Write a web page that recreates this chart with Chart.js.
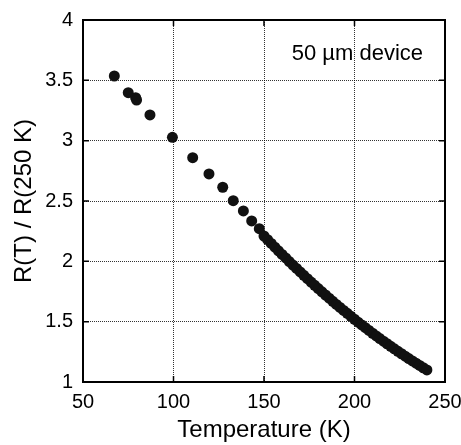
<!DOCTYPE html>
<html>
<head>
<meta charset="utf-8">
<script src="https://cdn.jsdelivr.net/npm/chart.js@4/dist/chart.umd.min.js"></script>
<style>
  html, body { margin: 0; padding: 0; background: #fff; }
  #wrap { width: 461px; height: 445px; position: relative; }
</style>
</head>
<body>
<div id="wrap"><canvas id="chart"></canvas></div>
<script>
// Temperature (K) and R(T)/R(250 K)
const temps = [67.3, 75, 79.1, 79.6, 87, 99.4, 110.6, 119.6, 127.2, 133, 138.6, 143.2, 147.4,
  150, 152, 154, 156, 158, 160, 162, 164, 166, 168, 170, 172, 174, 176, 178, 180, 182, 184,
  186, 188, 190, 192, 194, 196, 198, 200, 202, 204, 206, 208, 210, 212, 214, 216, 218, 220,
  222, 224, 226, 228, 230, 232, 234, 236, 238, 240];
const ratios = [3.536, 3.398, 3.356, 3.337, 3.213, 3.028, 2.859, 2.724, 2.614, 2.503, 2.418, 2.335, 2.271,
  2.210, 2.179, 2.148, 2.117, 2.087, 2.057, 2.028, 1.998, 1.969, 1.941, 1.912, 1.884, 1.856, 1.828,
  1.801, 1.774, 1.747, 1.721, 1.695, 1.669, 1.643, 1.618, 1.593, 1.569, 1.544, 1.520, 1.496, 1.473,
  1.450, 1.427, 1.404, 1.382, 1.360, 1.338, 1.317, 1.296, 1.275, 1.254, 1.234, 1.214, 1.194, 1.175,
  1.156, 1.137, 1.118, 1.100];

const xTicks = [50, 100, 150, 200, 250];
const yTicks = [1, 1.5, 2, 2.5, 3, 3.5, 4];
const annotation = '50 µm device';

const FONT = "'Liberation Sans', Arial, Helvetica, sans-serif";

// frame round the plot, with short inward ticks, plus the label in the corner
const framePlugin = {
  id: 'frame',
  afterDraw(chart) {
    const { ctx, chartArea: a, scales } = chart;
    ctx.save();
    ctx.strokeStyle = '#000';
    ctx.lineWidth = 1.5;
    xTicks.forEach(v => {
      const px = scales.x.getPixelForValue(v);
      ctx.beginPath();
      ctx.moveTo(px, a.bottom); ctx.lineTo(px, a.bottom - 6);
      ctx.moveTo(px, a.top); ctx.lineTo(px, a.top + 6);
      ctx.stroke();
    });
    yTicks.forEach(v => {
      const py = scales.y.getPixelForValue(v);
      ctx.beginPath();
      ctx.moveTo(a.left, py); ctx.lineTo(a.left + 6, py);
      ctx.moveTo(a.right, py); ctx.lineTo(a.right - 6, py);
      ctx.stroke();
    });
    ctx.lineWidth = 2;
    ctx.strokeRect(a.left, a.top, a.right - a.left, a.bottom - a.top);

    ctx.fillStyle = '#000';
    ctx.font = '22px ' + FONT;
    ctx.textAlign = 'right';
    ctx.textBaseline = 'middle';
    ctx.fillText(annotation, a.right - 22, a.top + 34);
    ctx.restore();
  }
};

new Chart(document.getElementById('chart'), {
  type: 'scatter',
  data: {
    datasets: [{
      data: temps.map((t, i) => ({ x: t, y: ratios[i] })),
      backgroundColor: '#111',
      borderWidth: 0,
      pointRadius: 5.5,
      pointHoverRadius: 5.5
    }]
  },
  options: {
    responsive: true,
    maintainAspectRatio: false,
    animation: false,
    events: [],
    layout: { padding: { top: 20, right: 16, left: 0, bottom: 0 } },
    plugins: { legend: { display: false }, tooltip: { enabled: false } },
    scales: {
      x: {
        type: 'linear',
        min: 50, max: 250,
        afterBuildTicks: s => { s.ticks = xTicks.map(v => ({ value: v })); },
        afterFit: s => { s.height = 63; s.paddingLeft = 0; s.paddingRight = 0; },
        grid: { color: 'rgba(0,0,0,0.8)', lineWidth: 1, drawTicks: false },
        border: { display: true, color: '#000', width: 2, dash: [1, 1] },
        ticks: { color: '#000', padding: 8, font: { family: FONT, size: 20 }, callback: v => String(v) },
        title: { display: true, text: 'Temperature (K)', color: '#000',
                 font: { family: FONT, size: 24 }, padding: { top: 0, bottom: 0 } }
      },
      y: {
        type: 'linear',
        min: 1, max: 4,
        afterBuildTicks: s => { s.ticks = yTicks.map(v => ({ value: v })); },
        afterFit: s => { s.width = 83; s.paddingTop = 0; s.paddingBottom = 0; },
        grid: { color: 'rgba(0,0,0,0.8)', lineWidth: 1, drawTicks: false },
        border: { display: true, color: '#000', width: 2, dash: [1, 1] },
        ticks: { color: '#000', padding: 10, font: { family: FONT, size: 20 }, callback: v => String(v) },
        title: { display: true, text: 'R(T) / R(250 K)', color: '#000',
                 font: { family: FONT, size: 24 }, padding: { top: 10, bottom: 0 } }
      }
    }
  },
  plugins: [framePlugin]
});
</script>
</body>
</html>
